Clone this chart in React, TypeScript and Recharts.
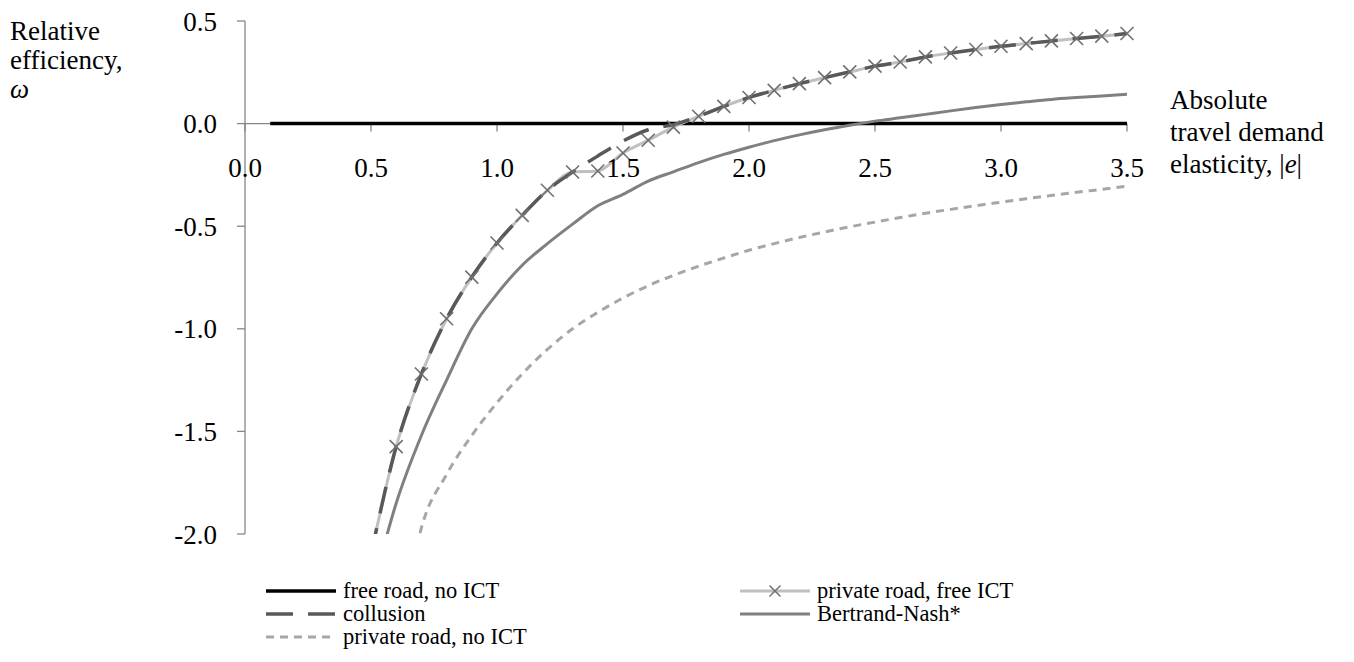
import React from 'react';
import { LineChart, Line, XAxis, YAxis, ReferenceLine, ReferenceDot, Legend } from 'recharts';

const elasticity = [0.1, 0.2, 0.3, 0.4, 0.5, 0.6, 0.7, 0.8, 0.9, 1.0, 1.1, 1.2, 1.3, 1.4, 1.5, 1.6, 1.7, 1.8, 1.9, 2.0, 2.1, 2.2, 2.3, 2.4, 2.5, 2.6, 2.7, 2.8, 2.9, 3.0, 3.1, 3.2, 3.3, 3.4, 3.5];

const freeRoadNoICT = [0, 0, 0, 0, 0, 0, 0, 0, 0, 0, 0, 0, 0, 0, 0, 0, 0, 0, 0, 0, 0, 0, 0, 0, 0, 0, 0, 0, 0, 0, 0, 0, 0, 0, 0];

const privateRoadFreeICT = [null, null, null, null, -2.1, -1.574, -1.22, -0.951, -0.748, -0.582, -0.447, -0.325, -0.236, -0.231, -0.143, -0.081, -0.017, 0.036, 0.084, 0.127, 0.162, 0.195, 0.224, 0.252, 0.28, 0.3, 0.325, 0.344, 0.361, 0.377, 0.39, 0.403, 0.415, 0.426, 0.439];

const collusion = [null, null, null, null, -2.1, -1.574, -1.22, -0.951, -0.748, -0.582, -0.447, -0.325, -0.236, -0.158, -0.085, -0.03, -0.005, 0.036, 0.084, 0.127, 0.162, 0.195, 0.224, 0.252, 0.28, 0.3, 0.325, 0.344, 0.361, 0.377, 0.39, 0.403, 0.415, 0.426, 0.439];

const bertrandNash = [null, null, null, null, -2.3, -1.85, -1.52, -1.25, -1.0, -0.83, -0.69, -0.585, -0.49, -0.4, -0.345, -0.28, -0.235, -0.19, -0.15, -0.115, -0.083, -0.055, -0.03, -0.008, 0.012, 0.028, 0.045, 0.062, 0.078, 0.093, 0.106, 0.118, 0.127, 0.135, 0.143];

const privateRoadNoICT = [null, null, null, null, null, -2.6, -1.97, -1.71, -1.52, -1.36, -1.22, -1.1, -1.0, -0.92, -0.85, -0.79, -0.74, -0.695, -0.655, -0.617, -0.585, -0.555, -0.528, -0.503, -0.48, -0.458, -0.437, -0.418, -0.4, -0.383, -0.366, -0.35, -0.335, -0.32, -0.305];

const xTicks = [0, 0.5, 1.0, 1.5, 2.0, 2.5, 3.0, 3.5];
const yTicks = [-2.0, -1.5, -1.0, -0.5, 0.0, 0.5];

const seriesNames = ['free road, no ICT', 'private road, free ICT', 'collusion', 'Bertrand-Nash*', 'private road, no ICT'];

const data = elasticity.map((e, i) => ({
  e,
  free: freeRoadNoICT[i],
  pfi: privateRoadFreeICT[i],
  col: collusion[i],
  bn: bertrandNash[i],
  pni: privateRoadNoICT[i],
}));

const FONT = '"Liberation Serif", "Times New Roman", serif';
const FS = 27;
const LFS = 22.5;
const AXIS_GRAY = '#868686';
const MARKER_GRAY = '#707070';
const COLLUSION_DASH = '27 15';
const NOICT_DASH = '8 6';

const XMarker = (props: any) => {
  const { cx, cy } = props;
  if (cx == null || cy == null || isNaN(cx) || isNaN(cy)) return null;
  const s = 6.5;
  return (
    <g>
      <line x1={cx - s} y1={cy - s} x2={cx + s} y2={cy + s} stroke={MARKER_GRAY} strokeWidth={1.6} />
      <line x1={cx - s} y1={cy + s} x2={cx + s} y2={cy - s} stroke={MARKER_GRAY} strokeWidth={1.6} />
    </g>
  );
};

const legendItems = [
  { name: seriesNames[0], color: '#000000', dash: undefined, width: 3.5, marker: false },
  { name: seriesNames[1], color: '#c0c0c0', dash: undefined, width: 3, marker: true },
  { name: seriesNames[2], color: '#595959', dash: COLLUSION_DASH, width: 3.5, marker: false },
  { name: seriesNames[3], color: '#808080', dash: undefined, width: 3, marker: false },
  { name: seriesNames[4], color: '#a6a6a6', dash: NOICT_DASH, width: 3, marker: false },
];

const ROW_H = 23;

const LegendEntry = ({ item }: { item: any }) => (
  <div style={{ display: 'flex', alignItems: 'center', height: ROW_H }}>
    <svg width={70} height={20} style={{ display: 'block' }}>
      <line x1={0} y1={10} x2={70} y2={10} stroke={item.color} strokeWidth={item.width} strokeDasharray={item.dash} />
      {item.marker ? (
        <g>
          <line x1={29.5} y1={4.5} x2={40.5} y2={15.5} stroke={MARKER_GRAY} strokeWidth={1.5} />
          <line x1={29.5} y1={15.5} x2={40.5} y2={4.5} stroke={MARKER_GRAY} strokeWidth={1.5} />
        </g>
      ) : null}
    </svg>
    <span style={{ marginLeft: 7, fontFamily: FONT, fontSize: LFS, color: '#000', whiteSpace: 'nowrap', lineHeight: ROW_H + 'px' }}>{item.name}</span>
  </div>
);

const renderLegend = () => (
  <div style={{ position: 'relative', width: 1000, height: 75 }}>
    <div style={{ position: 'absolute', left: 0, top: 0 }}>
      <LegendEntry item={legendItems[0]} />
      <LegendEntry item={legendItems[2]} />
      <LegendEntry item={legendItems[4]} />
    </div>
    <div style={{ position: 'absolute', left: 474, top: 0 }}>
      <LegendEntry item={legendItems[1]} />
      <LegendEntry item={legendItems[3]} />
    </div>
  </div>
);

const fmt = (v: number) => v.toFixed(1);

export default function App() {
  return (
    <div style={{ position: 'absolute', left: 0, top: 0, width: 1354, height: 662, background: '#fff' }}>
      <LineChart width={1354} height={662} data={data} margin={{ top: 21, right: 227, bottom: 128, left: 165 }}>
        <XAxis dataKey="e" type="number" domain={[0, 3.5]} ticks={xTicks} hide height={0} />
        <YAxis
          type="number"
          domain={[-2, 0.5]}
          ticks={yTicks}
          allowDataOverflow
          width={80}
          tickFormatter={fmt}
          axisLine={{ stroke: AXIS_GRAY, strokeWidth: 1.3 }}
          tickLine={{ stroke: AXIS_GRAY, strokeWidth: 1.3 }}
          tickSize={8}
          tickMargin={20}
          tick={{ fill: '#000', fontFamily: FONT, fontSize: FS }}
        />
        <ReferenceLine y={0} stroke={AXIS_GRAY} strokeWidth={1.3} />
        {xTicks.map((t) => (
          <ReferenceLine key={'tk' + t} segment={[{ x: t, y: 0 }, { x: t, y: -0.039 }]} stroke={AXIS_GRAY} strokeWidth={1.3} />
        ))}
        {xTicks.map((t) => (
          <ReferenceDot
            key={'tl' + t}
            x={t}
            y={0}
            r={0}
            fill="none"
            stroke="none"
            label={{ value: fmt(t), position: 'bottom', offset: 34, fill: '#000', fontFamily: FONT, fontSize: FS }}
          />
        ))}
        <Line dataKey="free" name={seriesNames[0]} stroke="#000" strokeWidth={3.5} dot={false} isAnimationActive={false} type="linear" />
        <Line dataKey="pfi" name={seriesNames[1]} stroke="#c0c0c0" strokeWidth={3} dot={false} isAnimationActive={false} type="monotone" />
        <Line dataKey="col" name={seriesNames[2]} stroke="#595959" strokeWidth={3.5} strokeDasharray={COLLUSION_DASH} dot={false} isAnimationActive={false} type="monotone" />
        <Line dataKey="bn" name={seriesNames[3]} stroke="#808080" strokeWidth={3} dot={false} isAnimationActive={false} type="monotone" />
        <Line dataKey="pni" name={seriesNames[4]} stroke="#a6a6a6" strokeWidth={3} strokeDasharray={NOICT_DASH} dot={false} isAnimationActive={false} type="monotone" />
        <Line dataKey="pfi" stroke="none" legendType="none" dot={<XMarker />} activeDot={false} isAnimationActive={false} type="monotone" />
        <Legend
          layout="horizontal"
          verticalAlign="middle"
          align="center"
          content={renderLegend}
          wrapperStyle={{ position: 'absolute', left: 266, top: 579, width: 1000, height: 75 }}
        />
      </LineChart>
      <div style={{ position: 'absolute', left: 10, top: 17, fontFamily: FONT, fontSize: FS, lineHeight: '29px', color: '#000' }}>
        <div>Relative</div>
        <div>efficiency,</div>
        <div style={{ fontStyle: 'italic' }}>ω</div>
      </div>
      <div style={{ position: 'absolute', left: 1170, top: 84, fontFamily: FONT, fontSize: FS, lineHeight: '32px', color: '#000' }}>
        <div>Absolute</div>
        <div>travel demand</div>
        <div>elasticity, |<span style={{ fontStyle: 'italic' }}>e</span>|</div>
      </div>
    </div>
  );
}
